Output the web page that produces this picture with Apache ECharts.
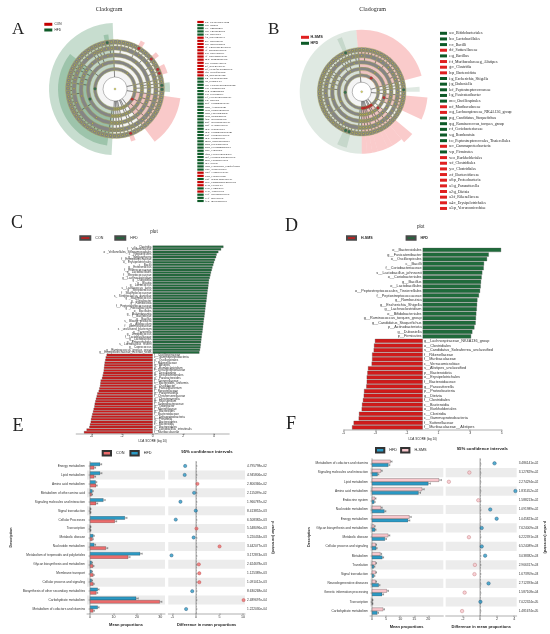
<!DOCTYPE html>
<html>
<head>
<meta charset="utf-8">
<script src="https://cdn.jsdelivr.net/npm/echarts@6/dist/echarts.min.js"></script>
<style>
html, body { margin: 0; padding: 0; background: #fff; }
#main { width: 550px; height: 634px; }
</style>
</head>
<body>
<div id="main"></div>
<script>
const SANS = 'Liberation Sans, Arial, sans-serif';
const SERIF = 'Liberation Serif, Times New Roman, serif';

// ---------------- cladogram tree: phylum > class > order > family > genus
const taxTree = [
  ['Firmicutes', [
    ['Negativicutes', [['Veillonellales', [['Veillonellaceae', ['Megasphaera']]]]]],
    ['Clostridia', [
      ['Lachnospirales', [['Lachnospiraceae', ['Blautia', 'Roseburia', 'Dorea', 'Lachnoclostridium', 'NK4A136_group', 'Marvinbryantia', 'Fusicatenibacter', 'Coprococcus', 'Tyzzerella', 'Anaerostipes']]]],
      ['Oscillospirales', [['Ruminococcaceae', ['Ruminococcus', 'Faecalibacterium', 'Anaerotruncus', 'Ruminiclostridium', 'Subdoligranulum']], ['Oscillospiraceae', ['Oscillibacter', 'Colidextribacter', 'Intestinimonas']]]],
      ['Christensenellales', [['Christensenellaceae', ['Christensenella', 'R7_group']]]],
      ['Peptostreptococcales', [['Peptostreptococcaceae', ['Romboutsia', 'Terrisporobacter']]]],
      ['Clostridiales', [['Clostridiaceae', ['Clostridium_sensu_stricto']], ['Eubacteriaceae', ['Eubacterium']]]]
    ]],
    ['Bacilli', [
      ['Erysipelotrichales', [['Erysipelotrichaceae', ['Dubosiella', 'Turicibacter', 'Faecalibaculum', 'Allobaculum']]]],
      ['Bacillales', [['Bacillaceae', ['Bacillus']], ['Staphylococcaceae', ['Staphylococcus']]]],
      ['Lactobacillales', [['Enterococcaceae', ['Enterococcus']], ['Streptococcaceae', ['Streptococcus', 'Lactococcus']], ['Lactobacillaceae', ['Lactobacillus']]]]
    ]]
  ]],
  ['Bacteroidetes', [['Bacteroidia', [['Bacteroidales', [
    ['Bacteroidaceae', ['Bacteroides', 'Phocaeicola']],
    ['Muribaculaceae', ['Muribaculum', 'Duncaniella', 'Paramuribaculum', 'Muribaculaceae_unclassified']],
    ['Rikenellaceae', ['Alistipes', 'Rikenella', 'Rikenellaceae_RC9']],
    ['Prevotellaceae', ['Prevotella', 'Alloprevotella', 'Paraprevotella']],
    ['Tannerellaceae', ['Parabacteroides', 'Tannerella']],
    ['Marinifilaceae', ['Odoribacter', 'Butyricimonas']]
  ]]]]]],
  ['Actinobacteriota', [
    ['Actinobacteria', [['Bifidobacteriales', [['Bifidobacteriaceae', ['Bifidobacterium']]]], ['Corynebacteriales', [['Dietziaceae', ['Dietzia']]]]]],
    ['Coriobacteriia', [['Coriobacteriales', [['Eggerthellaceae', ['Enterorhabdus', 'Adlercreutzia']]]]]]
  ]],
  ['Proteobacteria', [
    ['Gammaproteobacteria', [['Enterobacterales', [['Enterobacteriaceae', ['Escherichia_Shigella', 'Klebsiella']]]], ['Burkholderiales', [['Sutterellaceae', ['Parasutterella', 'Sutterella']]]]]],
    ['Deltaproteobacteria', [['Desulfovibrionales', [['Desulfovibrionaceae', ['Desulfovibrio', 'Bilophila', 'Mailhella']]]]]],
    ['Alphaproteobacteria', [['Rhodospirillales', [['Rhodospirillaceae', ['Thalassospira', 'Azospirillum']]]]]]
  ]],
  ['Verrucomicrobiota', [['Verrucomicrobiae', [['Verrucomicrobiales', [['Akkermansiaceae', ['Akkermansia', 'Akkermansiaceae_unclassified']]]]]]]],
  ['Deferribacterota', [['Deferribacteres', [['Deferribacterales', [['Deferribacteraceae', ['Mucispirillum']]]]]]]],
  ['Patescibacteria', [['Saccharimonadia', [['Saccharimonadales', [['Saccharimonadaceae', ['Candidatus_Saccharimonas', 'TM7x']]]]]]]],
  ['Campylobacterota', [['Campylobacteria', [['Campylobacterales', [['Helicobacteraceae', ['Helicobacter']]]]]]]],
  ['Tenericutes', [['Mollicutes', [['Anaeroplasmatales', [['Anaeroplasmataceae', ['Anaeroplasma']]]]]]]],
  ['Cyanobacteria', [['Vampirivibrionia', [['Gastranaerophilales', [['Gastranaerophilaceae', ['Gastranaerophilales_unclassified']]]]]]]]
];

// significant clades per group
const aConClades = ['Alistipes', 'Alloprevotella', 'Tannerella', 'Odoribacter', 'Proteobacteria', 'Candidatus_Saccharimonas'];
const aHfdClades = ['Firmicutes', 'Clostridia', 'Lactococcus', 'Dietzia', 'Enterorhabdus'];
const bSmsClades = ['Bacteroidetes', 'Gammaproteobacteria', 'Alphaproteobacteria', 'Verrucomicrobiota', 'Deferribacterota', 'Patescibacteria', 'Campylobacterota', 'Tenericutes', 'Cyanobacteria'];
const bHfdClades = ['Firmicutes', 'Dorea', 'Lachnoclostridium', 'Enterococcus', 'Enterorhabdus'];

// cladogram key lists
const aKeyNames = ['a:g_Faecalibacterium', 'b:g_Blautia', 'c:c_Unassigned', 'd:g_Enterococcus', 'e:o_Bacillales', 'f:p_Bacteroidetes', 'g:c_Bacteroidia', 'h:o_Bacteroidales', 'i:f_Christensenellaceae', 'j:f_Muribaculaceae', 'k:g_Oscillibacter', 'l:f_Oscillospiraceae', 'm:g_Ruminococcus', 'n:g_Paraprevotella', 'o:f_Rikenellaceae', 'p:f_Desulfovibrionaceae', 'q:g_Desulfovibrio', 'r:g_Mucispirillum', 's:g_Faecalibaculum', 't:g_Dubosiella', 'u:g_Erysipelatoclostridium', 'v:g_Lactobacillus', 'w:g_Romboutsia', 'x:g_Turicibacter', 'y:f_Erysipelotrichaceae', 'z:g_Bacillus', 'a0:f_Lachnospiraceae', 'b0:g_Allobaculum', 'c0:g_Staphylococcus', 'd0:g_Enterorhabdus', 'e0:g_Megasphaera', 'f0:g_Streptococcus', 'g0:f_Streptococcaceae', 'h0:f_Veillonellaceae', 'i0:o_Clostridiales', 'j0:g_Lachnoclostridium', 'k0:f_Lactobacillaceae', 'l0:g_Lactococcus', 'm0:g_Marvinbryantia', 'n0:o_Oscillospirales', 'o0:o_Selenomonadales', 'p0:c_Clostridia', 'q0:o_Erysipelotrichales', 'r0:f_Peptostreptococcaceae', 's0:o_Lactobacillales', 't0:c_Bacilli', 'u0:g_Candidatus_Stoquefichus', 'v0:c_Negativicutes', 'w0:f_Eubacteriaceae', 'x0:g_Eubacterium', 'y0:f_Staphylococcaceae', 'z0:c_Gammaproteobacteria', 'a1:g_Prevotella', 'b1:p_Firmicutes', 'c1:p_Tenericutes', 'd1:f_Enterococcaceae', 'e1:f_Bacillaceae', 'f1:g_Intestinibacter'];
const aKeyGroups = ['CON', 'HFD', 'HFD', 'HFD', 'HFD', 'CON', 'CON', 'CON', 'CON', 'CON', 'CON', 'CON', 'CON', 'CON', 'CON', 'CON', 'CON', 'CON', 'HFD', 'HFD', 'HFD', 'HFD', 'HFD', 'HFD', 'HFD', 'HFD', 'HFD', 'HFD', 'HFD', 'HFD', 'HFD', 'HFD', 'HFD', 'HFD', 'HFD', 'HFD', 'HFD', 'HFD', 'HFD', 'HFD', 'HFD', 'HFD', 'HFD', 'HFD', 'HFD', 'HFD', 'HFD', 'HFD', 'CON', 'CON', 'HFD', 'CON', 'CON', 'HFD', 'CON', 'HFD', 'HFD', 'HFD'];
const bKeyNames = ['a:o_Bifidobacteriales', 'b:o_Lactobacillales', 'c:c_Bacilli', 'd:f_Sutterellaceae', 'e:g_Bacillus', 'f:f_Muribaculaceaeg_Alistipes', 'g:c_Clostridia', 'h:p_Bacteroidota', 'i:g_Escherichia_Shigella', 'j:g_Dubosiella', 'k:f_Peptostreptococcaceae', 'l:g_Fusicatenibacter', 'm:o_Oscillospirales', 'n:f_Muribaculaceae', 'o:g_Lachnospiraceae_NK4A136_group', 'p:g_Candidatus_Stoquefichus', 'q:g_Ruminococcus_torques_group', 'r:f_Coriobacteriaceae', 's:g_Romboutsia', 't:o_Peptostreptococcales_Tissierellales', 'u:c_Gammaproteobacteria', 'v:p_Firmicutes', 'w:o_Burkholderiales', 'x:f_Clostridiales', 'y:o_Clostridiales', 'z:f_Bacteroidaceae', 'a0:p_Proteobacteria', 'a1:g_Parasutterella', 'a2:g_Dietzia', 'a3:f_Rikenellaceae', 'a4:c_Erysipelotrichales', 'a5:p_Verrucomicrobiae'];
const bKeyGroups = ['HFD', 'HFD', 'HFD', 'H-SMS', 'HFD', 'H-SMS', 'H-SMS', 'H-SMS', 'HFD', 'HFD', 'HFD', 'HFD', 'HFD', 'H-SMS', 'H-SMS', 'HFD', 'HFD', 'HFD', 'HFD', 'HFD', 'H-SMS', 'HFD', 'H-SMS', 'H-SMS', 'H-SMS', 'H-SMS', 'H-SMS', 'H-SMS', 'H-SMS', 'H-SMS', 'H-SMS', 'H-SMS'];

// ---------------- LDA scores, panel C (CON vs HFD)
const cHfdTaxa = ['c__Clostridia', 'f__Veillonellaceae', 'o__Veillonellales_Selenomonadales', 'c__Negativicutes', 'g__Megasphaera', 'f__Erysipelotrichaceae', 'o__Erysipelotrichales', 'c__Bacilli', 'g__Enterococcus', 'f__Enterococcaceae', 'o__Lactobacillales', 'f__Streptococcaceae', 'g__Lachnoclostridium', 'g__Dubosiella', 'g__Blautia', 'g__Lactococcus', 's__Lactococcus_lactis', 'g__Streptococcus', 'f__Staphylococcaceae', 's__Streptococcus_danieliae', 'g__Staphylococcus', 'g__Turicibacter', 'g__Romboutsia', 'f__Peptostreptococcaceae', 'g__Faecalibaculum', 'o__Bacillales', 'g__Marvinbryantia', 'f__Bacillaceae', 'g__Bacillus', 's__Blautia_producta', 'g__Allobaculum', 'f__Lachnospiraceae', 's__uncultured_bacterium', 'g__Tyzzerella', 'g__Jeotgalicoccus', 'f__Lactobacillaceae', 'g__Lactobacillus', 'g__Enterorhabdus', 's__Lactobacillus_reuteri', 'g__Coprococcus', 'g__Ruminococcus_gnavus_group', 'g__Erysipelotrichaceae_incertae_sedis'];
const cHfdLda = [4.62, 4.47, 4.29, 4.18, 4.14, 4.07, 4.01, 3.96, 3.90, 3.86, 3.81, 3.77, 3.73, 3.68, 3.66, 3.64, 3.62, 3.59, 3.57, 3.55, 3.53, 3.51, 3.48, 3.46, 3.44, 3.42, 3.40, 3.38, 3.35, 3.33, 3.31, 3.29, 3.27, 3.25, 3.22, 3.20, 3.18, 3.16, 3.14, 3.12, 3.09, 3.05];
const cConTaxa = ['f__Oscillospiraceae', 'c__Gammaproteobacteria', 'o__Oscillospirales', 'f__Rikenellaceae', 'g__Alistipes', 'g__Ruminiclostridium', 'f__Desulfovibrionaceae', 'g__Desulfovibrio', 'o__Desulfovibrionales', 'g__Parabacteroides', 'f__Tannerellaceae', 's__Bacteroides_uniformis', 'g__Oscillibacter', 'g__Faecalibacterium', 'f__Prevotellaceae', 'g__Paraprevotella', 'f__Christensenellaceae', 'g__Christensenella', 'g__Mucispirillum', 'f__Deferribacteraceae', 'g__Odoribacter', 'f__Marinifilaceae', 'g__Bacteroides', 'f__Bacteroidaceae', 'c__Deltaproteobacteria', 'g__Prevotella', 'p__Bacteroidetes', 'c__Bacteroidia', 'o__Bacteroidales', 's__Lactobacillus_intestinalis', 'f__Muribaculaceae'];
const cConLda = [-3.01, -3.07, -3.10, -3.14, -3.16, -3.18, -3.20, -3.23, -3.27, -3.31, -3.40, -3.42, -3.44, -3.49, -3.53, -3.62, -3.66, -3.71, -3.75, -3.79, -3.81, -3.86, -3.90, -3.95, -3.99, -4.03, -4.05, -4.10, -4.14, -4.32, -4.49];

// ---------------- LDA scores, panel D (H-SMS vs HFD)
const dHfdTaxa = ['o__Bacteroidales', 'g__Fusicatenibacter', 'o__Oscillospirales', 'c__Bacilli', 'f__Coriobacteriaceae', 's__Lactobacillus_johnsonii', 'o__Coriobacteriales', 'g__Bacillus', 'o__Lactobacillales', 'o__Peptostreptococcales_Tissierellales', 'f__Peptostreptococcaceae', 'g__Romboutsia', 'g__Escherichia_Shigella', 'g__Lachnoclostridium', 'o__Bifidobacteriales', 'g__Ruminococcus_torques_group', 'g__Candidatus_Stoquefichus', 'p__Actinobacteriota', 'g__Dubosiella', 'p__Firmicutes'];
const dHfdLda = [4.96, 4.18, 4.07, 3.88, 3.86, 3.77, 3.73, 3.69, 3.67, 3.63, 3.56, 3.46, 3.44, 3.42, 3.39, 3.37, 3.35, 3.27, 3.14, 3.06];
const dSmsTaxa = ['g__Lachnospiraceae_NK4A136_group', 'o__Clostridiales', 's__Candidatus_Soleaferrea_unclassified', 'f__Rikenellaceae', 'f__Muribaculaceae', 'c__Verrucomicrobiae', 's__Alistipes_unclassified', 'p__Bacteroidota', 'o__Erysipelotrichales', 'f__Bacteroidaceae', 'g__Parasutterella', 'p__Proteobacteria', 'g__Dietzia', 'f__Clostridiales', 'c__Bacteroidia', 'o__Burkholderiales', 'c__Clostridia', 'c__Gammaproteobacteria', 'f__Sutterellaceae', 'f__Muribaculaceae__Alistipes'];
const dSmsLda = [-3.02, -3.08, -3.10, -3.20, -3.20, -3.23, -3.46, -3.50, -3.54, -3.54, -3.57, -3.71, -3.73, -3.78, -3.84, -3.86, -4.03, -4.05, -4.37, -4.47];

// ---------------- STAMP, panel E (CON vs HFD)
const eFunctions = ['Energy metabolism', 'Lipid metabolism', 'Amino acid metabolism', 'Metabolism of other amino acid', 'Signaling molecules and interaction', 'Signal transduction', 'Cellular Processes', 'Transcription', 'Metabolic disease', 'Nucleotide metabolism', 'Metabolism of terpenoids and polyketides', 'Glycan biosynthesis and metabolism', 'Membrane transport', 'Cellular process and signaling', 'Biosynthesis of other secondary metabolites', 'Carbohydrate metabolism', 'Metabolism of cofactors and vitamins'];
const eHfd = [4.3, 4.3, 2.4, 1.0, 5.7, 0.1, 14.9, 0.1, 1.4, 1.8, 21.4, 0.7, 0.7, 0.7, 3.3, 19.7, 3.3];
const eCon = [1.8, 1.8, 2.6, 0.7, 2.6, 0.1, 10.6, 0.1, 1.0, 6.8, 16.3, 1.3, 1.4, 1.4, 2.7, 29.8, 1.4];
const eHfdErr = [0.4, 0.5, 0.2, 0.1, 0.5, 0.02, 0.6, 0.02, 0.15, 0.3, 0.6, 0.1, 0.1, 0.1, 0.3, 0.6, 0.3];
const eConErr = [0.3, 0.3, 0.2, 0.1, 0.4, 0.02, 0.5, 0.02, 0.1, 0.5, 0.5, 0.1, 0.1, 0.1, 0.3, 0.6, 0.2];
const eDiff = [-2.3, -2.4, 0.3, -0.4, -3.3, -0.05, -4.3, 0.1, -0.5, 5.0, -5.2, 0.6, 0.7, 0.7, -0.8, 10.1, -2.1];
const ePval = ['4.795798e-02', '4.945806e-02', '2.806366e-02', '2.115099e-02', '1.966787e-02', '8.413852e-03', '6.508382e-03', '5.548096e-03', '5.220434e-03', '3.442077e-03', '3.172874e-03', '2.624678e-03', '1.125389e-03', '1.091012e-03', '8.630268e-04', '2.489697e-04', '1.222030e-04'];

// ---------------- STAMP, panel F (HFD vs H-SMS)
const fFunctions = ['Metabolism of cofactors and vitamins', 'Signaling molecules and interaction', 'Lipid metabolism', 'Amino acid metabolism', 'Endocrine system', 'Nucleotide metabolism', 'Energy metabolism', 'Glycan biosynthesis and metabolism', 'Metabolic disease', 'Cellular process and signaling', 'Metabolism', 'Translation', 'Signal transduction', 'Neurodegenerative diseases', 'Genetic information processing', 'Transcription', 'Carbohydrate metabolism'];
const fSms = [6.6, 3.2, 23.8, 17.8, 1.1, 3.2, 13.3, 0.8, 5.8, 1.3, 3.0, 1.3, 1.3, 1.3, 5.3, 0.1, 4.0];
const fHfd = [5.8, 2.0, 20.0, 16.5, 0.8, 4.4, 12.8, 1.1, 4.6, 1.5, 3.7, 0.7, 0.7, 2.4, 3.6, 0.1, 1.9];
const fSmsErr = [0.3, 0.2, 0.6, 0.5, 0.1, 0.2, 0.4, 0.1, 0.3, 0.1, 0.2, 0.1, 0.1, 0.1, 0.3, 0.02, 0.2];
const fHfdErr = [0.3, 0.2, 0.5, 0.5, 0.1, 0.3, 0.4, 0.1, 0.3, 0.1, 0.2, 0.1, 0.1, 0.2, 0.3, 0.02, 0.2];
const fDiff = [1.7, -1.25, -3.65, 4.15, -0.2, 1.2, 1.95, 0.2, -1.3, 0.2, 0.6, -0.6, -0.65, 1.0, -1.8, 0.05, -2.1];
const fPval = ['3.486141e-02', '3.127829e-02', '2.274294e-02', '1.831452e-02', '1.588213e-02', '1.091989e-02', '1.045823e-02', '7.624009e-03', '6.222391e-03', '6.524089e-03', '3.038382e-03', '2.966317e-03', '1.673959e-03', '2.712393e-04', '1.587108e-04', '7.022324e-05', '1.481674e-05'];

// ---------------- colours
const RED = '#D11A1A', GREEN = '#1F6B3B';
const KEY_RED = '#C40000', KEY_GREEN = '#0D5A27';
const STAMP_RED = '#EC6C6C', STAMP_BLUE = '#2B9AC5', STAMP_PINK = '#F8C6CC';

// ---------------- helpers
function countLeaves(n) {
  return typeof n === 'string' ? 1 : n[1].reduce((s, c) => s + countLeaves(c), 0);
}
function toSunburst(list) {
  return list.map(n => typeof n === 'string' ? { name: n, value: 1 } : { name: n[0], children: toSunburst(n[1]) });
}
// angular span of every clade, clockwise from the start angle, same as the sunburst lays it out
function cladeAngles(list, start, unit, depth, out) {
  let a = start;
  list.forEach(n => {
    const k = countLeaves(n);
    out.push({ name: typeof n === 'string' ? n : n[0], depth: depth, from: a - k * unit, to: a });
    if (typeof n !== 'string') cladeAngles(n[1], a, unit, depth + 1, out);
    a -= k * unit;
  });
  return out;
}
const norm = a => ((a % 360) + 360) % 360;

const polar = [], angleAxis = [], radiusAxis = [];
function cladogram(cfg, idx) {
  const out = [];
  const total = taxTree.reduce((s, n) => s + countLeaves(n), 0);
  const clades = cladeAngles(taxTree, cfg.startAngle, 360 / total, 1, []);
  const R = cfg.bands[4];
  // shaded sectors of the significant clades
  cfg.groups.forEach(g => {
    g.names.forEach(nm => {
      const c = clades.find(x => x.name === nm);
      const span = c.to - c.from;
      out.push({
        type: 'pie', silent: true, clockwise: false, center: cfg.center,
        radius: [cfg.bands[c.depth - 1] - 2, R + cfg.reach[c.depth - 1]],
        startAngle: norm(c.from),
        label: { show: false }, labelLine: { show: false }, emphasis: { disabled: true },
        data: [{ value: span, itemStyle: { color: g.shade } }, { value: 360 - span, itemStyle: { color: 'rgba(0,0,0,0)' } }]
      });
    });
  });
  const data = toSunburst(taxTree);
  // branches
  out.push({
    type: 'sunburst', silent: true, sort: null, nodeClick: false, center: cfg.center, radius: [0, R],
    startAngle: cfg.startAngle, clockwise: true, label: { show: false }, emphasis: { disabled: true },
    data: data,
    levels: [{}].concat(cfg.bands.map((r, i) => ({
      r0: i === 0 ? cfg.inner : cfg.bands[i - 1], r: r,
      itemStyle: { color: 'rgba(120,120,110,0.08)', borderColor: '#3a3a3a', borderWidth: 0.35 },
      label: { show: false }
    })))
  });
  // grey rings of the taxonomic levels
  out.push({
    type: 'sunburst', silent: true, sort: null, nodeClick: false, center: cfg.center, radius: [0, R + 3],
    startAngle: cfg.startAngle, clockwise: true, label: { show: false }, emphasis: { disabled: true },
    data: data,
    levels: [{}].concat(cfg.bands.map((r, i) => ({
      r0: r - cfg.half[i], r: r + cfg.half[i],
      itemStyle: { color: '#858585', borderColor: '#a8a55a', borderWidth: 0.45 },
      label: { show: false }
    })))
  });
  polar.push({ center: cfg.center, radius: [0, R] });
  angleAxis.push({ polarIndex: idx, type: 'value', min: 0, max: 360, startAngle: 0, clockwise: false, show: false });
  radiusAxis.push({ polarIndex: idx, type: 'value', min: 0, max: R, show: false });
  out.push({
    type: 'scatter', coordinateSystem: 'polar', polarIndex: idx, silent: true, z: 5,
    data: [{ value: [0, 0], symbolSize: 2, itemStyle: { color: '#d4cf3a', borderColor: '#555', borderWidth: 0.3 } }].concat(clades.map(c => {
      const g = cfg.groups.find(gr => gr.names.includes(c.name));
      return {
        value: [cfg.bands[c.depth - 1], norm((c.from + c.to) / 2)],
        symbolSize: g ? 2.8 : 1.6,
        itemStyle: { color: g ? g.dot : '#d4cf3a', borderColor: '#555', borderWidth: 0.25 }
      };
    }))
  });
  return out;
}

const cladeA = cladogram({
  center: [115, 89], inner: 12, bands: [20, 27, 34, 41, 47], half: [1.5, 1.7, 1.9, 2.1, 2.3],
  reach: [19, 10, 8, 8, 8], startAngle: 267,
  groups: [
    { names: aHfdClades, shade: 'rgba(38,125,70,0.26)', dot: GREEN },
    { names: aConClades, shade: 'rgba(236,96,96,0.34)', dot: RED }
  ]
}, 0);
const cladeB = cladogram({
  center: [361.7, 91.7], inner: 9.5, bands: [16.5, 23, 29.5, 36, 42], half: [1.4, 1.6, 1.8, 2, 2.2],
  reach: [20, 24, 10, 10, 16], startAngle: 270,
  groups: [
    { names: bHfdClades, shade: 'rgba(110,155,125,0.22)', dot: GREEN },
    { names: bSmsClades, shade: 'rgba(240,110,110,0.36)', dot: RED }
  ]
}, 1);

// ---------------- LDA bar rows
function ldaRows(posTaxa, posLda, negTaxa, negLda) {
  return {
    names: posTaxa.concat(negTaxa),
    pos: posLda.concat(negLda.map(() => null)),
    neg: posLda.map(() => null).concat(negLda)
  };
}
const cRows = ldaRows(cHfdTaxa, cHfdLda, cConTaxa, cConLda);
const dRows = ldaRows(dHfdTaxa, dHfdLda, dSmsTaxa, dSmsLda);

function ldaSeries(name, data, color, axis, side, size) {
  return {
    name: name, type: 'bar', xAxisIndex: axis, yAxisIndex: axis, data: data,
    barGap: '-100%', barCategoryGap: '10%',
    itemStyle: { color: color, borderColor: '#4a4a4a', borderWidth: 0.3 },
    label: {
      show: true, position: side, distance: 1.2, fontSize: size, fontFamily: SANS, color: '#333',
      formatter: p => p.name
    }
  };
}

function errorBars(data, errs, axis, slot, gap) {
  return {
    type: 'custom', xAxisIndex: axis, yAxisIndex: axis, silent: true, z: 4,
    data: data.map((v, i) => [v, i, errs[i]]),
    renderItem: (params, api) => {
      const band = api.size([0, 1])[1];
      const h = band * (1 - gap) / 2;
      const y = api.coord([0, api.value(1)])[1] + slot * h / 2;
      const x1 = api.coord([api.value(0), api.value(1)])[0];
      const x2 = api.coord([api.value(0) + api.value(2), api.value(1)])[0] + 0.6;
      const st = { stroke: '#222', lineWidth: 0.4 };
      return {
        type: 'group', children: [
          { type: 'line', shape: { x1: x1, y1: y, x2: x2, y2: y }, style: st },
          { type: 'line', shape: { x1: x2, y1: y - h * 0.3, x2: x2, y2: y + h * 0.3 }, style: st }
        ]
      };
    }
  };
}

function ciSeries(diff, axis, posColor, negColor, posBorder, negBorder, size) {
  return {
    type: 'scatter', xAxisIndex: axis, yAxisIndex: axis, silent: true, symbolSize: size, z: 5,
    data: diff.map((d, i) => ({
      value: [d, i],
      itemStyle: { color: d > 0 ? posColor : negColor, borderColor: d > 0 ? posBorder : negBorder, borderWidth: 0.4 }
    })),
    markLine: {
      silent: true, symbol: 'none', label: { show: false },
      lineStyle: { type: 'dashed', color: '#777', width: 0.5 },
      data: [{ xAxis: 0 }]
    }
  };
}

const AX = { color: '#333', width: 0.4 };
const STRIPES = { show: true, areaStyle: { color: ['rgba(0,0,0,0)', '#ECECEC'] } };

function valueAxis(grid, min, max, ticks, name, labelSize, nameSize, nameGap, bold) {
  const ax = {
    gridIndex: grid, type: 'value', min: min, max: max,
    axisLine: { show: true, lineStyle: AX },
    axisTick: { show: true, length: 1.5, lineStyle: AX },
    axisLabel: { fontSize: labelSize, fontFamily: SANS, color: '#333', margin: 1.5 },
    splitLine: { show: false },
    name: name, nameLocation: 'middle', nameGap: nameGap,
    nameTextStyle: { fontSize: nameSize, fontFamily: SANS, color: '#222', fontWeight: bold ? 'bold' : 'normal' }
  };
  if (ticks) {
    ax.axisTick.customValues = ticks;
    ax.axisLabel.customValues = ticks;
  } else {
    ax.interval = 2;
  }
  return ax;
}
function catAxis(grid, data, side, labelSize, name, nameGap, rotate) {
  return {
    gridIndex: grid, type: 'category', data: data, inverse: true, position: side,
    axisLine: { show: true, lineStyle: AX },
    axisTick: { show: true, length: 1.5, alignWithLabel: true, lineStyle: AX },
    axisLabel: { fontSize: labelSize, fontFamily: SANS, color: '#333', margin: 2 },
    splitArea: STRIPES,
    name: name, nameLocation: 'middle', nameGap: nameGap, nameRotate: rotate,
    nameTextStyle: { fontSize: 3.6, fontFamily: SANS, color: '#222', fontWeight: 'bold' }
  };
}
const stripName = n => n.split('|')[0];

// ---------------- text, keys and lists drawn as graphics
const graphics = [];
function txt(x, y, text, size, extra) {
  graphics.push({
    type: 'text', x: x, y: y, silent: true,
    style: Object.assign({ text: text, fontSize: size, fontFamily: SANS, fill: '#222', align: 'left', verticalAlign: 'middle' }, extra || {})
  });
}
function box(x, y, w, h, color) {
  graphics.push({ type: 'rect', silent: true, shape: { x: x, y: y - h / 2, width: w, height: h }, style: { fill: color } });
}
txt(12, 30, 'A', 17, { fontFamily: SERIF });
txt(268, 30, 'B', 17, { fontFamily: SERIF });
txt(11, 223, 'C', 18, { fontFamily: SERIF });
txt(285, 226, 'D', 18, { fontFamily: SERIF });
txt(12.5, 426, 'E', 18, { fontFamily: SERIF });
txt(286, 424, 'F', 18, { fontFamily: SERIF });
txt(109, 9.5, 'Cladogram', 6, { fontFamily: SERIF, align: 'center' });
txt(372.7, 9.7, 'Cladogram', 6, { fontFamily: SERIF, align: 'center' });
txt(154, 231.7, 'plot', 4.5, { align: 'center' });
txt(420.7, 226.7, 'plot', 4.5, { align: 'center' });
txt(207, 452.3, '95% confidence intervals', 4.3, { align: 'center', fontWeight: 'bold' });
txt(482.3, 449.3, '95% confidence intervals', 4.3, { align: 'center', fontWeight: 'bold' });

box(44.3, 24.3, 8, 3, KEY_RED); txt(54.5, 24.3, 'CON', 3.2);
box(44.3, 30, 8, 3, KEY_GREEN); txt(54.5, 30, 'HFD', 3.2);
box(301, 37.3, 8, 3, '#E02020'); txt(310.5, 37.3, 'H-SMS', 3.8, { fontWeight: 'bold' });
box(301, 43.3, 8, 3, KEY_GREEN); txt(310.5, 43.3, 'HFD', 3.8, { fontWeight: 'bold' });

aKeyNames.forEach((n, i) => {
  const y = 22 + i * 3.14;
  box(197.3, y, 6.4, 2.2, aKeyGroups[i] === 'CON' ? KEY_RED : KEY_GREEN);
  txt(205, y, n, 2.8, { fontFamily: SERIF });
});
bKeyNames.forEach((n, i) => {
  const y = 33.3 + i * 5.65;
  box(440, y, 7, 3, bKeyGroups[i] === 'HFD' ? KEY_GREEN : '#E02020');
  txt(449.3, y, n, 3.9, { fontFamily: SERIF });
});

// ---------------- chart
const chart = echarts.init(document.getElementById('main'), null, { renderer: 'canvas' });
const option = {
  animation: false,
  backgroundColor: '#fff',
  polar: polar,
  angleAxis: angleAxis,
  radiusAxis: radiusAxis,
  grid: [
    { left: 76.2, top: 245.5, width: 153, height: 188 },
    { left: 343.7, top: 247.7, width: 158, height: 182 },
    { left: 87, top: 461.5, width: 78, height: 152 },
    { left: 168.3, top: 461.5, width: 76.7, height: 152 },
    { left: 370, top: 458.7, width: 73.3, height: 157 },
    { left: 445.7, top: 458.7, width: 71, height: 157 }
  ],
  xAxis: [
    valueAxis(0, -5, 5, [-4, -2, 0, 2, 4], 'LDA SCORE (log 10)', 3.4, 3, 6, false),
    valueAxis(1, -5, 5, null, 'LDA SCORE (log 10)', 3.4, 3, 8, false),
    valueAxis(2, -1.3, 32, [0, 10, 20, 30], 'Mean proportions', 3.6, 4, 9, true),
    valueAxis(3, -5.88, 10.4, [-5, 0, 5, 10], 'Difference in mean proportions', 3.6, 4, 9, true),
    valueAxis(4, -0.7, 25.3, [0, 5, 10, 15, 20], 'Mean proportions', 3.6, 4, 9, true),
    valueAxis(5, -4.02, 4.3, [-2, 0, 2, 4], 'Difference in mean proportions', 3.6, 4, 9, true)
  ],
  yAxis: [
    { gridIndex: 0, type: 'category', data: cRows.names, inverse: true, show: false },
    { gridIndex: 1, type: 'category', data: dRows.names, inverse: true, show: false },
    catAxis(2, eFunctions, 'left', 3.2, 'Description', 74, 90),
    catAxis(3, ePval, 'right', 3.2, 'p-value (corrected)', 26, -90),
    catAxis(4, fFunctions, 'left', 3.2, 'Description', 59, 90),
    catAxis(5, fPval, 'right', 3.2, 'p-value (corrected)', 26, -90)
  ],
  legend: [
    { data: ['CON|C', 'HFD|C'], left: 79.3, top: 235.2, itemWidth: 10, itemHeight: 3.6, itemGap: 11, padding: 0, icon: 'rect', formatter: stripName, textStyle: { fontSize: 3.6, fontFamily: SANS, color: '#222' } },
    { data: ['H-SMS|D', 'HFD|D'], left: 346, top: 235.2, itemWidth: 9, itemHeight: 3.6, itemGap: 33, padding: 0, icon: 'rect', formatter: stripName, textStyle: { fontSize: 3.6, fontFamily: SANS, color: '#222', fontWeight: 'bold' } },
    { data: ['CON|E', 'HFD|E'], left: 101.7, top: 450, itemWidth: 8.3, itemHeight: 4.6, itemGap: 5, padding: 0, icon: 'rect', formatter: stripName, textStyle: { fontSize: 3.8, fontFamily: SANS, color: '#222' } },
    { data: ['HFD|F', 'H-SMS|F'], left: 375, top: 447, itemWidth: 8.3, itemHeight: 4.6, itemGap: 3, padding: 0, icon: 'rect', formatter: stripName, textStyle: { fontSize: 3.8, fontFamily: SANS, color: '#222' } }
  ],
  graphic: graphics,
  series: [].concat(
    cladeA, cladeB,
    ldaSeries('HFD|C', cRows.pos, GREEN, 0, 'left', 3),
    ldaSeries('CON|C', cRows.neg, RED, 0, 'right', 3),
    ldaSeries('HFD|D', dRows.pos, GREEN, 1, 'left', 3.8),
    ldaSeries('H-SMS|D', dRows.neg, RED, 1, 'right', 3.8),
    [
      { name: 'HFD|E', type: 'bar', xAxisIndex: 2, yAxisIndex: 2, data: eHfd, barGap: '0%', barCategoryGap: '24%', itemStyle: { color: STAMP_BLUE, borderColor: '#333', borderWidth: 0.3 } },
      { name: 'CON|E', type: 'bar', xAxisIndex: 2, yAxisIndex: 2, data: eCon, barGap: '0%', barCategoryGap: '24%', itemStyle: { color: STAMP_RED, borderColor: '#333', borderWidth: 0.3 } },
      errorBars(eHfd, eHfdErr, 2, -1, 0.24),
      errorBars(eCon, eConErr, 2, 1, 0.24),
      ciSeries(eDiff, 3, STAMP_RED, STAMP_BLUE, '#a33', '#135', 3.3),
      { name: 'H-SMS|F', type: 'bar', xAxisIndex: 4, yAxisIndex: 4, data: fSms, barGap: '0%', barCategoryGap: '24%', itemStyle: { color: STAMP_PINK, borderColor: '#333', borderWidth: 0.3 } },
      { name: 'HFD|F', type: 'bar', xAxisIndex: 4, yAxisIndex: 4, data: fHfd, barGap: '0%', barCategoryGap: '24%', itemStyle: { color: STAMP_BLUE, borderColor: '#333', borderWidth: 0.3 } },
      errorBars(fSms, fSmsErr, 4, -1, 0.24),
      errorBars(fHfd, fHfdErr, 4, 1, 0.24),
      ciSeries(fDiff, 5, STAMP_BLUE, STAMP_PINK, '#135', '#a55', 3.5)
    ]
  )
};
chart.setOption(option);
</script>
</body>
</html>
